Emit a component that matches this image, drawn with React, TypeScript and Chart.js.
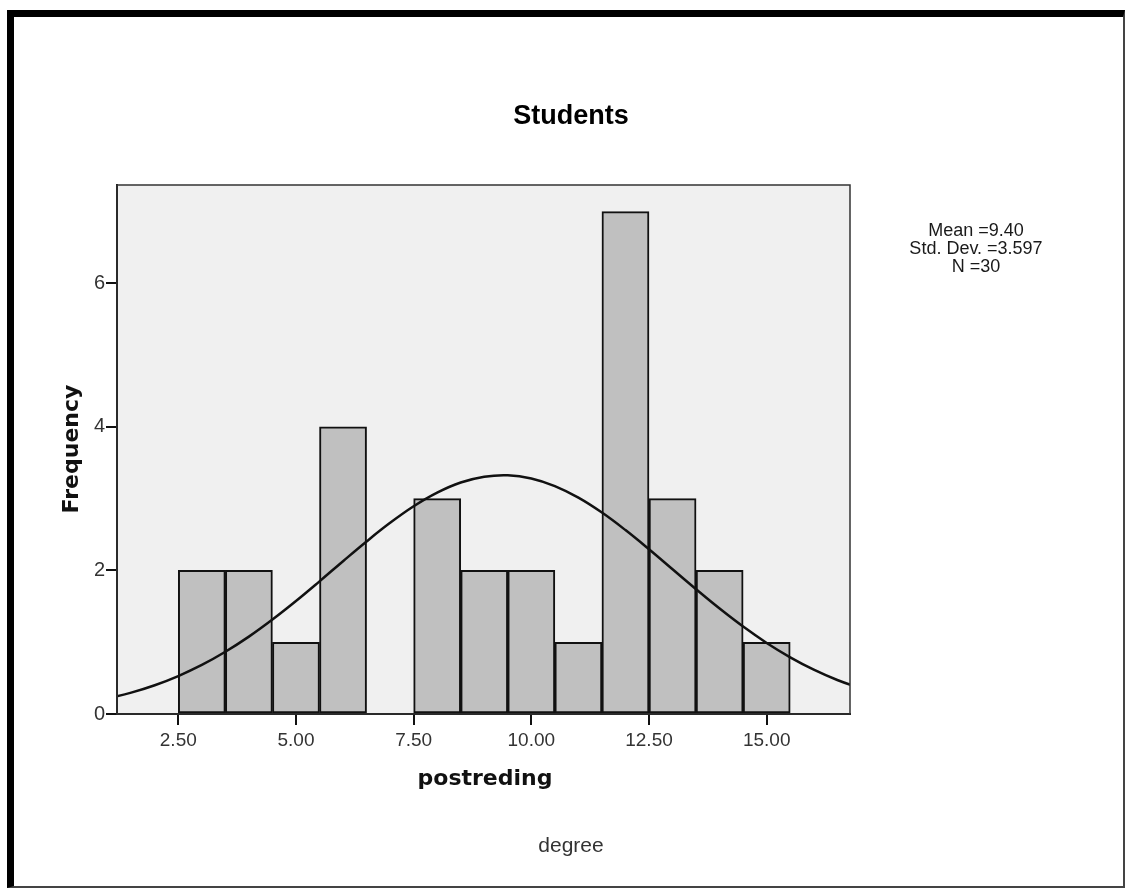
import React, { useEffect, useRef } from "react";
import { Chart, registerables } from "chart.js";

Chart.register(...registerables);

// Histogram bins (centres) and frequencies
const binCenters = [3, 4, 5, 6, 7, 8, 9, 10, 11, 12, 13, 14, 15];
const frequencies = [2, 2, 1, 4, 0, 3, 2, 2, 1, 7, 3, 2, 1];

// Normal curve
const curveX = [1, 1.5, 2, 2.5, 3, 3.5, 4, 4.5, 5, 5.5, 6, 6.5, 7, 7.5, 8, 8.5, 9, 9.5, 10, 10.5, 11, 11.5, 12, 12.5, 13, 13.5, 14, 14.5, 15, 15.5, 16, 16.5, 17];
const curveY = [0.218, 0.298, 0.401, 0.529, 0.683, 0.867, 1.078, 1.316, 1.574, 1.848, 2.129, 2.404, 2.663, 2.894, 3.084, 3.225, 3.306, 3.326, 3.281, 3.175, 3.014, 2.806, 2.562, 2.295, 2.016, 1.738, 1.469, 1.218, 0.99, 0.79, 0.618, 0.474, 0.357];

const xTicks = [2.5, 5, 7.5, 10, 12.5, 15];
const yTicks = [0, 2, 4, 6];

const titleText = "Students";
const xTitle = "postreding";
const yTitle = "Frequency";
const footText = "degree";
const statsLines = ["Mean =9.40", "Std. Dev. =3.597", "N =30"];

const SANS = "'Liberation Sans', Arial, sans-serif";
const DEJA = "'DejaVu Sans', Verdana, sans-serif";

export default function App() {
  const ref = useRef<HTMLCanvasElement | null>(null);

  useEffect(() => {
    if (!ref.current) return;
    const decor = {
      id: "decor",
      beforeDraw(chart: any) {
        const { ctx, chartArea: a } = chart;
        ctx.save();
        ctx.fillStyle = "#f0f0f0";
        ctx.fillRect(a.left, a.top, a.right - a.left, a.bottom - a.top);
        ctx.restore();
      },
      afterDraw(chart: any) {
        const { ctx, chartArea: a } = chart;
        ctx.save();
        ctx.strokeStyle = "#333";
        ctx.lineWidth = 1.5;
        ctx.strokeRect(a.left, a.top, a.right - a.left, a.bottom - a.top);

        ctx.textAlign = "center";
        ctx.textBaseline = "middle";
        ctx.fillStyle = "#000";
        ctx.font = `bold 27px ${SANS}`;
        ctx.fillText(titleText, 571, 117);

        ctx.fillStyle = "#111";
        ctx.font = `bold 22px ${DEJA}`;
        ctx.fillText(xTitle, 485, 779);

        ctx.save();
        ctx.translate(72, 449);
        ctx.rotate(-Math.PI / 2);
        ctx.fillText(yTitle, 0, 0);
        ctx.restore();

        ctx.fillStyle = "#333";
        ctx.font = `21px ${SANS}`;
        ctx.fillText(footText, 571, 846);

        ctx.fillStyle = "#1a1a1a";
        ctx.font = `18px ${SANS}`;
        statsLines.forEach((s, i) => ctx.fillText(s, 976, 231 + i * 18));
        ctx.restore();
      },
    };

    const chart = new Chart(ref.current, {
      type: "bar",
      data: {
        datasets: [
          {
            type: "line",
            data: curveX.map((x, i) => ({ x, y: curveY[i] })),
            borderColor: "#111",
            borderWidth: 2.5,
            pointRadius: 0,
            tension: 0.4,
            fill: false,
            order: 0,
          } as any,
          {
            type: "bar",
            data: binCenters.map((x, i) => ({ x, y: frequencies[i] })),
            backgroundColor: "#c0c0c0",
            borderColor: "#111",
            borderWidth: 2,
            borderSkipped: false,
            barPercentage: 1,
            categoryPercentage: 1,
            order: 1,
          } as any,
        ],
      },
      options: {
        animation: false,
        responsive: false,
        maintainAspectRatio: false,
        layout: { padding: { left: 0, top: 185, right: 275, bottom: 0 } },
        plugins: { legend: { display: false }, tooltip: { enabled: false }, title: { display: false } },
        scales: {
          x: {
            type: "linear",
            min: 1.198,
            max: 16.77,
            offset: false,
            afterFit: (s: any) => { s.height = 174; },
            afterBuildTicks: (s: any) => { s.ticks = xTicks.map((v) => ({ value: v })); },
            grid: { display: true, drawOnChartArea: false, drawTicks: true, tickLength: 11, color: "#111", lineWidth: 2, offset: false },
            border: { display: true, color: "#111", width: 2 },
            ticks: {
              color: "#333",
              font: { family: SANS, size: 19 },
              padding: 4,
              maxRotation: 0,
              autoSkip: false,
              callback: (v: any) => Number(v).toFixed(2),
            },
          },
          y: {
            type: "linear",
            min: 0,
            max: 7.37,
            afterFit: (s: any) => { s.width = 117; },
            afterBuildTicks: (s: any) => { s.ticks = yTicks.map((v) => ({ value: v })); },
            grid: { display: true, drawOnChartArea: false, drawTicks: true, tickLength: 11, color: "#111", lineWidth: 2 },
            border: { display: true, color: "#111", width: 2 },
            ticks: {
              color: "#333",
              font: { family: SANS, size: 20 },
              padding: 1,
              callback: (v: any) => String(v),
            },
          },
        },
      },
      plugins: [decor],
    } as any);
    return () => chart.destroy();
  }, []);

  return (
    <div style={{ position: "absolute", left: 0, top: 0, width: 1125, height: 888, background: "#fff" }}>
      <canvas ref={ref} width={1125} height={888} style={{ position: "absolute", left: 0, top: 0 }} />
      <div
        style={{
          position: "absolute",
          left: 7,
          top: 10,
          width: 1118,
          height: 878,
          boxSizing: "border-box",
          borderTop: "7px solid #000",
          borderLeft: "7px solid #000",
          borderRight: "2px solid #444",
          borderBottom: "2px solid #444",
          pointerEvents: "none",
        }}
      />
    </div>
  );
}
